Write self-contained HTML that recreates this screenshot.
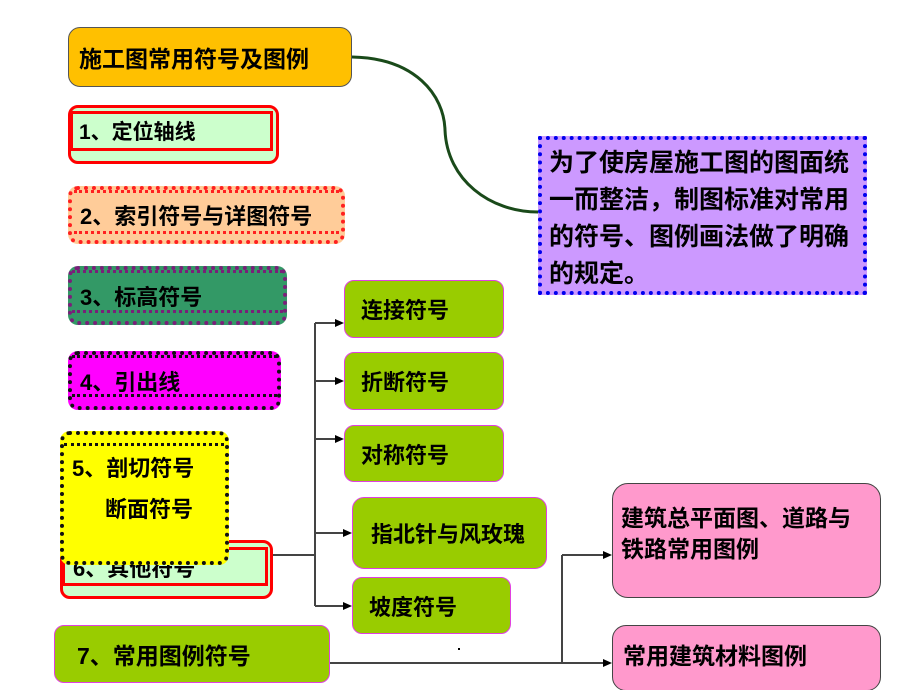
<!DOCTYPE html>
<html><head><meta charset="utf-8"><style>
html,body{margin:0;padding:0;background:#fff;width:920px;height:690px;overflow:hidden}
body{position:relative;font-family:"Liberation Sans","Noto Sans CJK SC","WenQuanYi Zen Hei",sans-serif;font-weight:bold;color:#000}
.b{position:absolute;box-sizing:border-box;display:flex;align-items:center}
.t{position:absolute;white-space:nowrap}
svg{position:absolute;left:0;top:0}
</style></head><body>
<svg width="920" height="690">
<path d="M352,57 C415,58 444,95 445,130 C447,180 490,212 538,212" fill="none" stroke="#1a4a1a" stroke-width="3"/>
<g stroke="#444" stroke-width="2" fill="none">
<line x1="315" y1="323" x2="315" y2="606"/>
<line x1="272" y1="555" x2="315" y2="555"/>
<line x1="315" y1="323" x2="336" y2="323"/>
<line x1="315" y1="381" x2="336" y2="381"/>
<line x1="315" y1="439" x2="336" y2="439"/>
<line x1="315" y1="533" x2="344" y2="533"/>
<line x1="315" y1="606" x2="344" y2="606"/>
<line x1="329" y1="663" x2="604" y2="663"/>
<line x1="562" y1="555" x2="562" y2="663"/>
<line x1="562" y1="555" x2="604" y2="555"/>
</g>
<g fill="#000">
<polygon points="344,323 335,319 335,327"/>
<polygon points="344,381 335,377 335,385"/>
<polygon points="344,439 335,435 335,443"/>
<polygon points="352,533 343,529 343,537"/>
<polygon points="352,606 343,602 343,610"/>
<polygon points="612,555 603,551 603,559"/>
<polygon points="612,663 603,659 603,667"/>
</g>
<rect x="458" y="648" width="2" height="2" fill="#000"/>
</svg>

<div class="b" style="left:68px;top:27px;width:284px;height:60px;background:#ffc000;border:1px solid #555;border-radius:12px;font-size:23px;padding-left:10px">施工图常用符号及图例</div>

<div class="b" style="left:68px;top:105px;width:211px;height:59px;background:#ccffcc;border:3px solid #ff0000;border-radius:10px"></div>
<div class="b" style="left:70px;top:111px;width:203px;height:40px;border:3px solid #ff0000;font-size:21px;padding-left:6px">1、定位轴线</div>

<div class="b" style="left:68px;top:186px;width:277px;height:58px;background:#ffcc99;border:4px dotted #ff2020;border-radius:10px;font-size:22px;padding-left:8px">2、索引符号与详图符号</div>
<div style="position:absolute;left:74px;top:190px;width:265px;height:44px;border-top:3px dotted #ff2020;border-bottom:3px dotted #ff2020;box-sizing:border-box"></div>

<div class="b" style="left:68px;top:266px;width:219px;height:59px;background:#339966;border:4px dotted #7a1f7a;border-radius:10px;font-size:22px;padding-left:8px">3、标高符号</div>
<div style="position:absolute;left:72px;top:270px;width:211px;height:43px;border-top:3px dotted #7a1f7a;border-bottom:3px dotted #7a1f7a;box-sizing:border-box"></div>

<div class="b" style="left:68px;top:351px;width:213px;height:59px;background:#ff00ff;border:4px dotted #111;border-radius:10px;font-size:22px;padding-left:8px">4、引出线</div>
<div style="position:absolute;left:72px;top:355px;width:205px;height:42px;border-top:3px dotted #111;border-bottom:3px dotted #111;box-sizing:border-box"></div>

<div class="b" style="left:60px;top:540px;width:213px;height:59px;background:#ccffcc;border:3px solid #ff0000;border-radius:10px"></div>
<div class="b" style="left:62px;top:547px;width:206px;height:39px;border:3px solid #ff0000;font-size:22px;padding-left:8px">6、其他符号</div>

<div style="position:absolute;left:60px;top:431px;width:169px;height:134px;background:#ffff00;border:4px dotted #111;border-radius:10px;box-sizing:border-box"></div>
<div style="position:absolute;left:64px;top:443px;width:160px;height:0;border-top:3px dotted #111"></div>
<div class="t" style="left:72px;top:451px;font-size:22px">5、剖切符号</div>
<div class="t" style="left:105px;top:492px;font-size:22px">断面符号</div>

<div class="b" style="left:54px;top:625px;width:276px;height:58px;background:#99cc00;border:1px solid #e040e0;border-radius:10px;font-size:23px;padding-left:22px">7、常用图例符号</div>

<div class="b" style="left:344px;top:280px;width:160px;height:58px;background:#99cc00;border:1px solid #e040e0;border-radius:10px;font-size:22px;padding-left:16px">连接符号</div>
<div class="b" style="left:344px;top:352px;width:160px;height:58px;background:#99cc00;border:1px solid #e040e0;border-radius:10px;font-size:22px;padding-left:16px">折断符号</div>
<div class="b" style="left:344px;top:425px;width:160px;height:57px;background:#99cc00;border:1px solid #e040e0;border-radius:10px;font-size:22px;padding-left:16px">对称符号</div>
<div class="b" style="left:352px;top:497px;width:195px;height:72px;background:#99cc00;border:1px solid #e040e0;border-radius:12px;font-size:22px;padding-left:18px">指北针与风玫瑰</div>
<div class="b" style="left:352px;top:577px;width:159px;height:57px;background:#99cc00;border:1px solid #e040e0;border-radius:10px;font-size:22px;padding-left:16px">坡度符号</div>

<div style="position:absolute;left:538px;top:136px;width:329px;height:159px;background:#cc99ff;border:4px dotted #0000ee;box-sizing:border-box"></div>
<div class="t" style="left:549px;top:145px;font-size:25px;line-height:37px">为了使房屋施工图的图面统<br>一而整洁，制图标准对常用<br>的符号、图例画法做了明确<br>的规定。</div>

<div style="position:absolute;left:612px;top:483px;width:269px;height:115px;background:#ff99cc;border:1px solid #444;border-radius:16px;box-sizing:border-box"></div>
<div class="t" style="left:621px;top:503px;font-size:23px;line-height:31px">建筑总平面图、道路与<br>铁路常用图例</div>
<div class="b" style="left:612px;top:625px;width:269px;height:66px;background:#ff99cc;border:1px solid #444;border-radius:14px;font-size:23px;padding-left:10px;padding-bottom:8px">常用建筑材料图例</div>
</body></html>
